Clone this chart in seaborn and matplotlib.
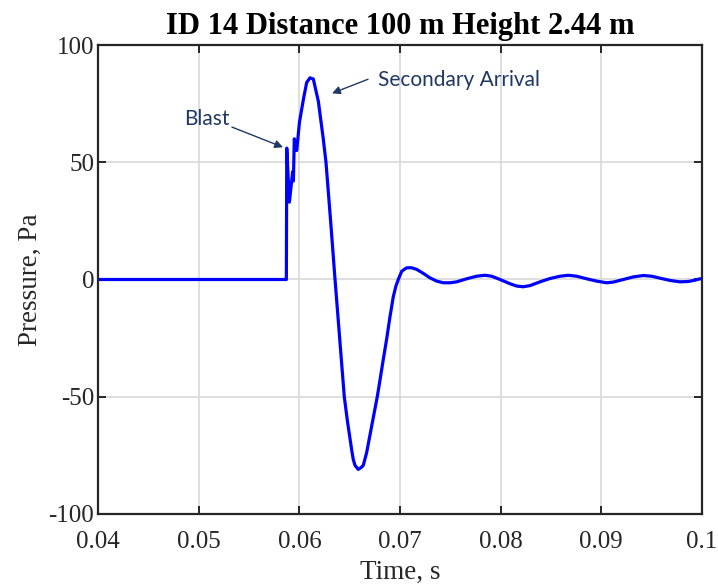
import numpy as np
import pandas as pd
import seaborn as sns
import matplotlib
matplotlib.use("Agg")
import matplotlib.pyplot as plt

# ---- data ----
time_s = [
    0.04000, 0.05870, 0.05874, 0.05900, 0.05933, 0.05940, 0.05949, 0.05966,
    0.05973, 0.06000, 0.06040, 0.06072, 0.06105, 0.06138, 0.06188, 0.06237,
    0.06264, 0.06310, 0.06354, 0.06400, 0.06446, 0.06476, 0.06500, 0.06520,
    0.06535, 0.06552, 0.06585, 0.06619, 0.06635, 0.06668,
    0.06718, 0.06774, 0.06801, 0.06833, 0.06868, 0.06900, 0.06933, 0.06958,
    0.06983, 0.07017, 0.07066, 0.07116, 0.07166, 0.07232, 0.07298, 0.07365,
    0.07431, 0.07497, 0.07563, 0.07663, 0.07762, 0.07845, 0.07911, 0.07994,
    0.08094, 0.08160, 0.08226, 0.08293, 0.08392, 0.08491, 0.08591, 0.08674,
    0.08757, 0.08856, 0.08956, 0.09055, 0.09121, 0.09221, 0.09320, 0.09420,
    0.09502, 0.09602, 0.09685, 0.09784, 0.09867, 0.09933, 0.09983, 0.10000,
]
pressure_pa = [
    0.0, 0.0, 56.0, 33.0, 46.0, 42.0, 60.0, 56.0,
    55.0, 67.0, 77.0, 84.0, 86.0, 85.5, 76.0, 60.0,
    50.0, 25.0, 0.0, -25.0, -50.0, -60.0, -67.0, -72.8,
    -76.7, -79.2, -81.0, -80.0, -79.2, -73.9,
    -62.6, -50.0, -42.9, -34.3, -25.2, -16.0, -7.4, -3.0,
    0.0, 3.5, 5.0, 5.0, 4.3, 2.6, 0.7, -0.7,
    -1.4, -1.4, -1.0, 0.3, 1.4, 1.8, 1.4, 0.0,
    -1.8, -2.8, -3.1, -2.6, -1.0, 0.4, 1.4, 1.8,
    1.4, 0.3, -0.7, -1.4, -1.1, 0.0, 1.1, 1.7,
    1.4, 0.4, -0.4, -1.0, -0.85, -0.3, 0.3, 0.2,
]
x_ticks = [0.04, 0.05, 0.06, 0.07, 0.08, 0.09, 0.1]
x_tick_labels = ["0.04", "0.05", "0.06", "0.07", "0.08", "0.09", "0.1"]
y_ticks = [-100, -50, 0, 50, 100]
y_tick_labels = ["-100", "-50", "0", "50", "100"]

title = "ID 14 Distance 100 m Height 2.44 m"
x_label = "Time, s"
y_label = "Pressure, Pa"

df = pd.DataFrame({"Time": time_s, "Pressure": pressure_pa})

sns.set_theme(style="white")
plt.rcParams["font.family"] = ["Liberation Serif", "DejaVu Serif"]

fig = plt.figure(figsize=(7.18, 5.86), dpi=100)
ax = fig.add_axes([0.1369, 0.1229, 0.8404, 0.8003])

sns.lineplot(data=df, x="Time", y="Pressure", ax=ax, color="#0000FF",
             linewidth=2.3, estimator=None, sort=False)

ax.set_xlim(0.04, 0.1)
ax.set_ylim(-100, 100)
ax.set_xticks(x_ticks)
ax.set_xticklabels(x_tick_labels)
ax.set_yticks(y_ticks)
ax.set_yticklabels(y_tick_labels)

ax.grid(True, color="#d9d9d9", linewidth=1.2)
ax.set_axisbelow(True)
for s in ax.spines.values():
    s.set_visible(True)
    s.set_color("#262626")
    s.set_linewidth(1.6)

ax.tick_params(axis="both", which="both", direction="in", length=6, width=1.4,
               colors="#262626", labelsize=18, labelcolor="#262626",
               top=True, right=True, bottom=True, left=True, pad=3)
ax.tick_params(axis="x", pad=12)

ax.set_xlabel(x_label, fontsize=19.5, color="#262626", labelpad=5)
ax.set_ylabel(y_label, fontsize=19.5, color="#262626", labelpad=4)
ax.set_title(title, fontsize=22, fontweight="bold", color="black", pad=8)

navy = "#1F3864"
ann_font = ["Lato", "DejaVu Sans"]
ax.text(0.05076, 68.3, "Blast", fontsize=15, color=navy, family=ann_font,
        ha="center", va="center")
ax.annotate("", xy=(0.05837, 56.4), xytext=(0.05329, 65.0),
            arrowprops=dict(arrowstyle="-|>", color=navy, lw=1.0,
                            mutation_scale=12, shrinkA=0, shrinkB=0))
ax.text(0.06781, 85.0, "Secondary Arrival", fontsize=15, color=navy,
        family=ann_font, ha="left", va="center")
ax.annotate("", xy=(0.06324, 79.4), xytext=(0.06682, 85.4),
            arrowprops=dict(arrowstyle="-|>", color=navy, lw=1.0,
                            mutation_scale=12, shrinkA=0, shrinkB=0))

fig.savefig("out.png", dpi=100)
